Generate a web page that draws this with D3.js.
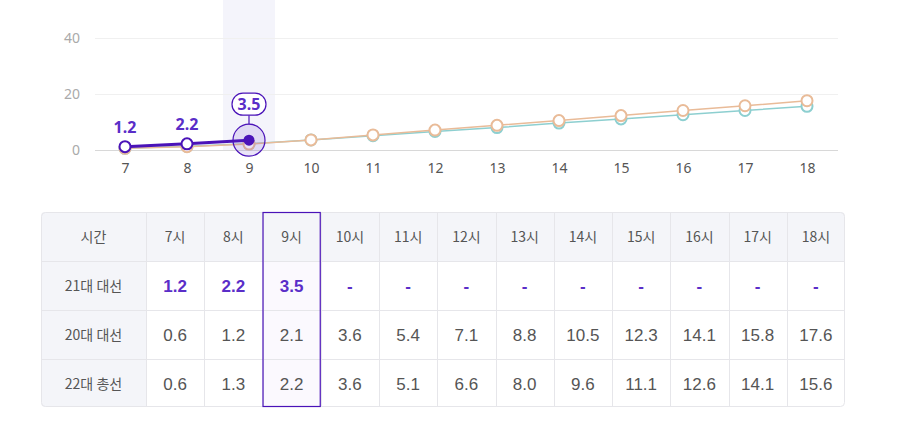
<!DOCTYPE html>
<html>
<head>
<meta charset="utf-8">
<script src="https://cdn.jsdelivr.net/npm/d3@7"></script>
<style>
  body { margin: 0; background: #fff; font-family: "Noto Sans CJK KR", "Noto Sans", sans-serif; }
  #chart { position: absolute; left: 0; top: 0; }
</style>
</head>
<body>
<svg id="chart" width="902" height="427"></svg>
<script>
  // hours and turnout (%) per election
  var hours = [7, 8, 9, 10, 11, 12, 13, 14, 15, 16, 17, 18];
  var rowNames = ["21대 대선", "20대 대선", "22대 총선"];
  var s21 = [1.2, 2.2, 3.5];
  var s20 = [0.6, 1.2, 2.1, 3.6, 5.4, 7.1, 8.8, 10.5, 12.3, 14.1, 15.8, 17.6];
  var s22 = [0.6, 1.3, 2.2, 3.6, 5.1, 6.6, 8.0, 9.6, 11.1, 12.6, 14.1, 15.6];
  var yTicks = [0, 20, 40];
  var activeHour = 9;

  var purple = "#4a13b8", purpleText = "#5a2ec8";
  var orange = "#e9bb98", teal = "#8dcfd0";

  var svg = d3.select("#chart");

  var x = d3.scaleLinear().domain([7, 18]).range([125, 807]);
  var y = d3.scaleLinear().domain([0, 40]).range([150, 38]);

  // highlight band for active hour
  svg.append("rect")
    .attr("x", x(activeHour) - 26).attr("y", 0)
    .attr("width", 52).attr("height", y(0))
    .attr("fill", "#f4f4fb");

  // y grid + labels
  var yAxis = svg.append("g").attr("transform", "translate(95,0)")
    .call(d3.axisLeft(y).tickValues(yTicks).tickSize(-743).tickPadding(15));
  yAxis.select(".domain").remove();
  yAxis.selectAll(".tick line").attr("stroke", function (d) { return d === 0 ? "#d8d8d8" : "#f0f0f0"; });
  yAxis.selectAll(".tick text").attr("fill", "#aaa").style("font-size", "14px")
    .style("font-family", "Noto Sans, sans-serif");

  // x labels
  var xAxis = svg.append("g").attr("transform", "translate(0," + y(0) + ")")
    .call(d3.axisBottom(x).tickValues(hours).tickSize(0).tickPadding(13).tickFormat(d3.format("d")));
  xAxis.select(".domain").remove();
  xAxis.selectAll(".tick text").attr("fill", "#555").style("font-size", "14px")
    .style("font-family", "Noto Sans, sans-serif");

  var line = d3.line().x(function (d, i) { return x(hours[i]); }).y(function (d) { return y(d); });

  function drawSeries(vals, color, width) {
    svg.append("path").datum(vals).attr("d", line)
      .attr("fill", "none").attr("stroke", color).attr("stroke-width", width);
    svg.selectAll(null).data(vals).enter().append("circle")
      .attr("cx", function (d, i) { return x(hours[i]); })
      .attr("cy", function (d) { return y(d); })
      .attr("r", 5.5).attr("fill", "#fff").attr("stroke", color).attr("stroke-width", 2);
  }
  drawSeries(s22, teal, 1.5);
  drawSeries(s20, orange, 1.5);

  // current election line
  svg.append("path").datum(s21).attr("d", line)
    .attr("fill", "none").attr("stroke", purple).attr("stroke-width", 3);
  var last = s21.length - 1;
  svg.selectAll(null).data(s21.slice(0, last)).enter().append("circle")
    .attr("cx", function (d, i) { return x(hours[i]); })
    .attr("cy", function (d) { return y(d); })
    .attr("r", 5.5).attr("fill", "#fff").attr("stroke", purple).attr("stroke-width", 2);
  svg.selectAll(null).data(s21.slice(0, last)).enter().append("text")
    .attr("x", function (d, i) { return x(hours[i]); })
    .attr("y", function (d) { return y(d) - 14; })
    .attr("text-anchor", "middle").attr("fill", purpleText)
    .style("font-size", "16px").style("font-weight", "bold")
    .style("font-family", "Noto Sans, sans-serif")
    .text(function (d) { return d.toFixed(1); });

  // active point
  var ax = x(hours[last]), ay = y(s21[last]);
  svg.append("circle").attr("cx", ax).attr("cy", ay).attr("r", 16)
    .attr("fill", "rgba(90,46,200,0.13)").attr("stroke", purple).attr("stroke-width", 1.2);
  svg.append("circle").attr("cx", ax).attr("cy", ay).attr("r", 5.5).attr("fill", purple);
  svg.append("line").attr("x1", ax).attr("x2", ax).attr("y1", ay - 16).attr("y2", ay - 25)
    .attr("stroke", purple).attr("stroke-width", 1.2);
  svg.append("rect").attr("x", ax - 17).attr("y", ay - 47).attr("width", 34).attr("height", 22)
    .attr("rx", 11).attr("fill", "#fff").attr("stroke", purple).attr("stroke-width", 1.2);
  svg.append("text").attr("x", ax).attr("y", ay - 30).attr("text-anchor", "middle")
    .attr("fill", purpleText).style("font-size", "16px").style("font-weight", "bold")
    .style("font-family", "Noto Sans, sans-serif").text(s21[last].toFixed(1));

  // ---- table ----
  var tLeft = 41, tTop = 212, tRight = 845, rowH = 49, firstW = 105;
  var cols = d3.scaleBand().domain(hours).range([tLeft + firstW, tRight]);
  var tRows = [s21, s20, s22];
  var tHeight = rowH * 4 - 1;

  var tbl = svg.append("g");
  tbl.append("clipPath").attr("id", "tclip").append("rect")
    .attr("x", tLeft).attr("y", tTop).attr("width", tRight - tLeft).attr("height", tHeight).attr("rx", 4);
  var tg = tbl.append("g").attr("clip-path", "url(#tclip)");
  tg.append("rect").attr("x", tLeft).attr("y", tTop).attr("width", tRight - tLeft).attr("height", tHeight).attr("fill", "#fff");
  tg.append("rect").attr("x", tLeft).attr("y", tTop).attr("width", tRight - tLeft).attr("height", rowH).attr("fill", "#f4f5f9");
  tg.append("rect").attr("x", tLeft).attr("y", tTop).attr("width", firstW).attr("height", tHeight).attr("fill", "#f4f5f9");
  tg.append("rect").attr("x", cols(activeHour)).attr("y", tTop + rowH).attr("width", cols.bandwidth())
    .attr("height", tHeight - rowH).attr("fill", "#fbf9fe");

  // grid lines
  for (var r = 1; r < 4; r++) {
    tg.append("line").attr("x1", tLeft).attr("x2", tRight)
      .attr("y1", tTop + r * rowH + 0.5).attr("y2", tTop + r * rowH + 0.5).attr("stroke", "#e6e6ea");
  }
  hours.forEach(function (h) {
    tg.append("line").attr("x1", Math.round(cols(h)) + 0.5).attr("x2", Math.round(cols(h)) + 0.5)
      .attr("y1", tTop).attr("y2", tTop + tHeight).attr("stroke", "#e6e6ea");
  });
  tbl.append("rect").attr("x", tLeft + 0.5).attr("y", tTop + 0.5).attr("width", tRight - tLeft - 1)
    .attr("height", tHeight - 1).attr("rx", 4).attr("fill", "none").attr("stroke", "#e6e6ea");

  var font = "Noto Sans CJK KR, sans-serif";
  // header
  tbl.append("text").attr("x", tLeft + firstW / 2).attr("y", tTop + rowH / 2 + 5)
    .attr("text-anchor", "middle").attr("fill", "#555").style("font-size", "14px").style("font-family", font).text("시간");
  tbl.selectAll(null).data(hours).enter().append("text")
    .attr("x", function (d) { return cols(d) + cols.bandwidth() / 2; })
    .attr("y", tTop + rowH / 2 + 5).attr("text-anchor", "middle").attr("fill", "#555")
    .style("font-size", "14px").style("font-family", font)
    .text(function (d) { return d + "시"; });

  tRows.forEach(function (vals, ri) {
    var cy = tTop + rowH * (ri + 1) + rowH / 2 + 6;
    tbl.append("text").attr("x", tLeft + firstW / 2).attr("y", cy - 1)
      .attr("text-anchor", "middle").attr("fill", "#555").style("font-size", "14px").style("font-family", font)
      .text(rowNames[ri]);
    tbl.selectAll(null).data(hours).enter().append("text")
      .attr("x", function (d) { return cols(d) + cols.bandwidth() / 2; })
      .attr("y", cy).attr("text-anchor", "middle")
      .attr("fill", ri === 0 ? purpleText : "#555")
      .style("font-size", "17px").style("font-weight", ri === 0 ? "bold" : "normal")
      .style("font-family", "Liberation Sans, Arial, sans-serif")
      .text(function (d, i) { return vals[i] === undefined ? "-" : vals[i].toFixed(1); });
  });

  // active column outline
  tbl.append("rect").attr("x", cols(activeHour) + 0.5).attr("y", tTop + 0.5)
    .attr("width", cols.bandwidth() - 1).attr("height", tHeight - 1)
    .attr("fill", "none").attr("stroke", purple).attr("stroke-width", 1.2);
</script>
</body>
</html>
